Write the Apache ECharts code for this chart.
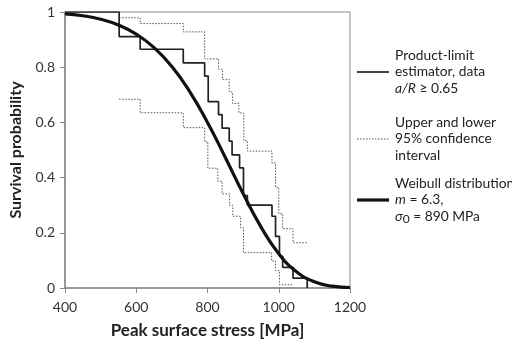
<!DOCTYPE html>
<html><head><meta charset="utf-8">
<script src="https://cdn.jsdelivr.net/npm/echarts@6/dist/echarts.min.js"></script>
<style>html,body{margin:0;padding:0;background:#fff}#c{width:512px;height:344px}</style>
</head><body><div id="c"></div>
<script>
// Product-limit estimator (step points: stress, survival)
const plStress   = [400, 552, 611, 732, 792, 802, 831, 841, 861, 869, 890, 901, 912, 981, 991, 1002, 1011, 1040, 1080];
const plSurvival = [1, 0.911, 0.865, 0.816, 0.768, 0.675, 0.628, 0.579, 0.532, 0.482, 0.435, 0.335, 0.300, 0.260, 0.187, 0.115, 0.075, 0.036, 0];
// Upper 95% confidence bound
const upStress   = [552, 611, 732, 792, 831, 842, 861, 870, 888, 902, 912, 981, 991, 1000, 1011, 1040, 1081];
const upSurvival = [0.979, 0.958, 0.928, 0.830, 0.793, 0.756, 0.710, 0.669, 0.634, 0.534, 0.496, 0.453, 0.365, 0.269, 0.215, 0.164, 0.164];
// Lower 95% confidence bound
const loStress   = [552, 611, 732, 792, 801, 829, 841, 862, 871, 893, 901, 980, 991, 1002, 1042];
const loSurvival = [0.684, 0.635, 0.581, 0.530, 0.434, 0.387, 0.341, 0.300, 0.260, 0.219, 0.128, 0.098, 0.063, 0.012, 0.012];
// Weibull distribution curve
const wbStress   = [400, 450, 500, 550, 600, 650, 700, 750, 800, 850, 900, 950, 1000, 1050, 1100, 1150, 1200];
const wbSurvival = [0.9935, 0.9865, 0.9739, 0.9529, 0.9200, 0.8710, 0.8024, 0.7116, 0.6000, 0.4731, 0.3420, 0.2213, 0.1244, 0.0588, 0.0224, 0.0066, 0.0014];

const legendNames = ['Product-limit estimator', 'Upper and lower 95% confidence interval', 'Weibull distribution'];
const legendTexts = [
  'Product-limit\nestimator, data\n{i|a/R} ≥ 0.65',
  'Upper and lower\n95% confidence\ninterval',
  'Weibull distribution\n{i|m} = 6.3,\n{i|σ}{sub|0} = 890 MPa'
];

const zip = (xs, ys) => xs.map((x, i) => [x, ys[i]]);
const FONT = 'Lato';
const LFS = 13.8;
const LH = 16.5;
const TXT = '#222';
const rich = {
  i: {fontStyle: 'italic', fontFamily: FONT, fontSize: LFS, lineHeight: LH, fill: TXT},
  sub: {fontFamily: FONT, fontSize: 12, lineHeight: LH, verticalAlign: 'bottom', padding: [5, 0, 0, 0], fill: TXT}
};
const ciLine = {color: '#555', width: 1, type: [1.5, 1.5]};
const legendStyles = [
  {stroke: '#222', lineWidth: 1.7},
  {stroke: '#555', lineWidth: 1, lineDash: [1.5, 1.5]},
  {stroke: '#111', lineWidth: 3.2}
];
const legendY = [72, 139, 200];
const graphics = [];
legendY.forEach((y, k) => {
  graphics.push({type: 'line', shape: {x1: 357, y1: y, x2: 389, y2: y}, style: legendStyles[k], silent: true});
  graphics.push({type: 'text', x: 395, y: y, style: {
    text: legendTexts[k], fontFamily: FONT, fontSize: LFS, lineHeight: LH, fill: TXT,
    verticalAlign: 'middle', align: 'left', rich: rich}, silent: true});
});

const chart = echarts.init(document.getElementById('c'), null, {renderer: 'canvas'});
chart.setOption({
  animation: false,
  backgroundColor: '#fff',
  grid: {left: 63, top: 12, right: 162, bottom: 47, show: true, borderColor: '#8a8a8a', borderWidth: 1},
  graphic: graphics,
  xAxis: {
    type: 'value', min: 400, max: 1200, interval: 200,
    name: 'Peak surface stress [MPa]', nameLocation: 'middle', nameGap: 34,
    nameTextStyle: {fontFamily: FONT, fontSize: 17, fontWeight: 'bold', color: TXT},
    axisLine: {lineStyle: {color: '#8a8a8a', width: 1.5}},
    axisTick: {show: true, length: 5, lineStyle: {color: '#8a8a8a'}},
    axisLabel: {fontFamily: FONT, fontSize: 14, color: '#333', margin: 12, formatter: v => String(v)},
    splitLine: {show: false}
  },
  yAxis: {
    type: 'value', min: 0, max: 1, interval: 0.2,
    name: 'Survival probability', nameLocation: 'middle', nameGap: 41,
    nameTextStyle: {fontFamily: FONT, fontSize: 16, fontWeight: 'bold', color: TXT},
    axisLine: {show: true, lineStyle: {color: '#8a8a8a', width: 1.5}},
    axisTick: {show: true, length: 5, lineStyle: {color: '#8a8a8a'}},
    axisLabel: {fontFamily: FONT, fontSize: 14, color: '#333', margin: 10},
    splitLine: {show: false}
  },
  series: [
    {name: legendNames[1], type: 'line', step: 'end', symbol: 'none', data: zip(upStress, upSurvival),
     lineStyle: ciLine, itemStyle: {color: '#555'}},
    {name: legendNames[1], type: 'line', step: 'end', symbol: 'none', data: zip(loStress, loSurvival),
     lineStyle: ciLine, itemStyle: {color: '#555'}},
    {name: legendNames[0], type: 'line', step: 'end', symbol: 'none', data: zip(plStress, plSurvival),
     lineStyle: {color: '#222', width: 1.7}, itemStyle: {color: '#222'}},
    {name: legendNames[2], type: 'line', smooth: true, symbol: 'none', data: zip(wbStress, wbSurvival),
     lineStyle: {color: '#111', width: 3.2}, itemStyle: {color: '#111'}}
  ]
});
</script></body></html>
